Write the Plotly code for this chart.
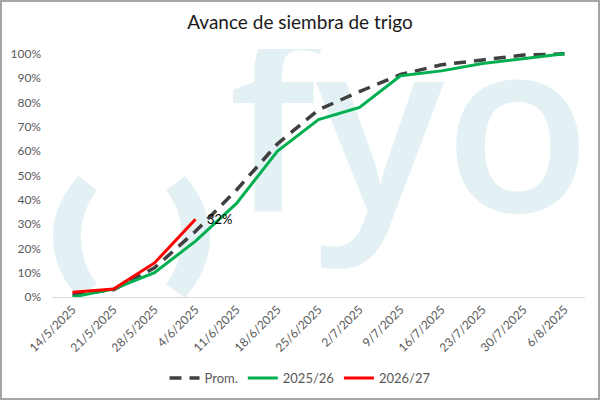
import plotly.graph_objects as go

dates = ["14/5/2025", "21/5/2025", "28/5/2025", "4/6/2025", "11/6/2025", "18/6/2025",
         "25/6/2025", "2/7/2025", "9/7/2025", "16/7/2025", "23/7/2025", "30/7/2025", "6/8/2025"]
prom = [0.01, 0.03, 0.12, 0.27, 0.44, 0.63, 0.77, 0.845, 0.915, 0.955, 0.975, 0.995, 1.0]
s2526 = [0.0, 0.033, 0.10, 0.23, 0.385, 0.60, 0.73, 0.78, 0.91, 0.93, 0.96, 0.98, 1.0]
s2627 = [0.02, 0.033, 0.14, 0.32]
last_label = "32%"

FONT = "Lato"
W, H = 600, 400
L, R, T, B = 52, 15, 49, 103
PW, PH = W - L - R, H - T - B

def px(x):
    return (x - L) / PW

def py(y):
    return (H - B - y) / PH

WM = "#E3F1F5"

fig = go.Figure()

# watermark text (pixel-space axes, under the data overlay)
fig.add_trace(go.Scatter(x=[229], y=[152], mode="text", text=["fyo"],
                         textposition="middle right", cliponaxis=True,
                         textfont=dict(family="Open Sans", size=240, color=WM, weight=600),
                         showlegend=False, hoverinfo="skip", xaxis="x", yaxis="y"))

fig.add_trace(go.Scatter(x=dates, y=prom, mode="lines", name="Prom.",
                         line=dict(color="#404040", width=3.5, dash="12px,8px"),
                         xaxis="x2", yaxis="y2"))
fig.add_trace(go.Scatter(x=dates, y=s2526, mode="lines", name="2025/26",
                         line=dict(color="#00B050", width=3),
                         xaxis="x2", yaxis="y2"))
fig.add_trace(go.Scatter(x=dates[:len(s2627)], y=s2627, mode="lines", name="2026/27",
                         line=dict(color="#FF0000", width=3),
                         xaxis="x2", yaxis="y2"))

left_paren = ("M 78,176 C 58,200 53,220 53,237 C 53,254 58,274 78,298 L 97,284 "
              "C 85,268 81,252 81,237 C 81,222 85,206 97,190 Z")
right_paren = ("M 185,176 C 205,200 210,220 210,237 C 210,254 205,274 185,298 L 166,284 "
               "C 178,268 182,252 182,237 C 182,222 178,206 166,190 Z")

shapes = [
    dict(type="path", path=left_paren, xref="x", yref="y", fillcolor=WM,
         line=dict(width=0), layer="below"),
    dict(type="path", path=right_paren, xref="x", yref="y", fillcolor=WM,
         line=dict(width=0), layer="below"),
    dict(type="rect", xref="paper", yref="paper", x0=px(1), x1=px(599), y0=py(399), y1=py(1),
         line=dict(color="#A6A6A6", width=2), fillcolor="rgba(0,0,0,0)"),
]

fig.update_layout(
    width=W, height=H,
    margin=dict(l=L, r=R, t=T, b=B, autoexpand=False),
    paper_bgcolor="white", plot_bgcolor="white",
    font=dict(family=FONT, size=12, color="#595959"),
    title=dict(text="Avance de siembra de trigo", x=0.5, xref="container", xanchor="center",
               y=1 - 22 / H, yref="container", yanchor="middle",
               font=dict(family=FONT, size=19, color="#1a1a1a")),
    xaxis=dict(range=[L, W - R], visible=False, fixedrange=True),
    yaxis=dict(range=[H - B, T], visible=False, fixedrange=True),
    xaxis2=dict(type="category", overlaying="x", anchor="y2", side="bottom",
                range=[-0.5, len(dates) - 0.5], tickangle=-45, showgrid=False,
                showline=True, linecolor="#D9D9D9", linewidth=1, ticks="",
                tickfont=dict(family=FONT, size=12, color="#595959")),
    yaxis2=dict(overlaying="y", anchor="x2", side="left", range=[0, 1.02],
                tickvals=[i / 10 for i in range(11)], tickformat=".0%",
                showgrid=False, zeroline=False, showline=False, ticks="",
                ticklabelstandoff=10,
                tickfont=dict(family=FONT, size=12, color="#595959")),
    legend=dict(orientation="h", x=px(300), xanchor="center", xref="paper",
                y=py(378), yanchor="middle", yref="paper",
                font=dict(family=FONT, size=13, color="#595959"), traceorder="normal"),
    shapes=shapes,
    annotations=[dict(x=dates[len(s2627) - 1], y=s2627[-1], xref="x2", yref="y2",
                      text=last_label, showarrow=False, xanchor="left", yanchor="middle",
                      xshift=9, font=dict(family=FONT, size=13, color="#000000"))],
)

fig.write_html("out.html")
